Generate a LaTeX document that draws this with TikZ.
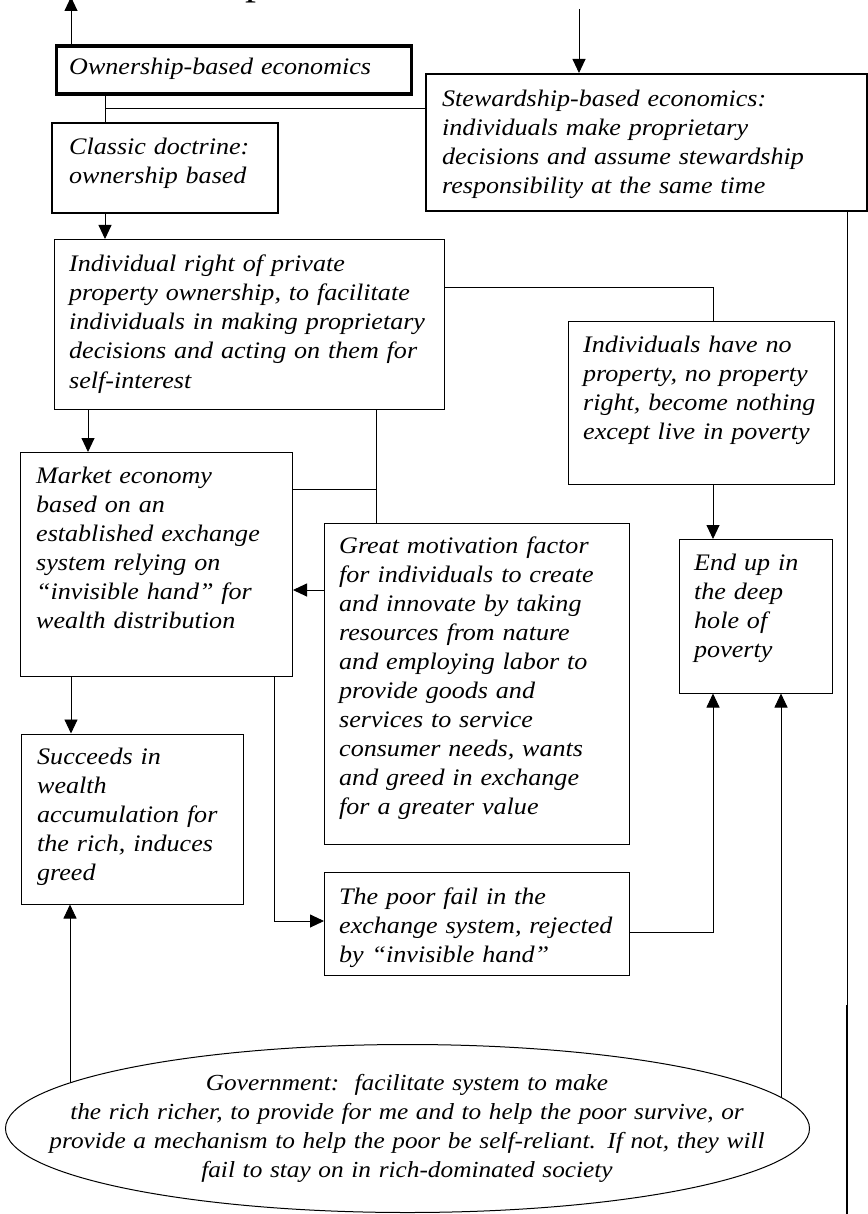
\documentclass[tikz,border=0pt]{standalone}
\usepackage{fontspec}
\setmainfont{Liberation Serif}[FakeStretch=1.1]
\usetikzlibrary{arrows.meta,shapes.geometric,calc}
\begin{document}
\begin{tikzpicture}[x=1pt,y=-1pt,
  box/.style={draw, line width=1pt, inner sep=0pt, anchor=north west},
  txt/.style={anchor=base west, inner sep=0pt, align=left, text width=440pt,
              font=\fontsize{23.7}{29}\selectfont\itshape},
  conn/.style={line width=0.9pt},
  arr/.style={conn, -{Triangle[length=14pt,width=13pt]}}]
\useasboundingbox (0,0) rectangle (867,1214);

% boxes
\node[box, line width=3.3pt, minimum width=355pt, minimum height=48pt] (own) at (54.5,44.5) {};
\node[box, line width=2pt, minimum width=440.5pt, minimum height=137pt] (stew) at (425,73) {};
\node[box, line width=2pt, minimum width=226pt, minimum height=90.2pt] (classic) at (51,122.3) {};
\node[box, minimum width=390pt, minimum height=170pt] (indiv) at (53.5,239) {};
\node[box, minimum width=266pt, minimum height=163pt] (none) at (568,321) {};
\node[box, minimum width=272pt, minimum height=224pt] (market) at (20,452) {};
\node[box, minimum width=305pt, minimum height=321pt] (great) at (324,523) {};
\node[box, minimum width=153pt, minimum height=153.5pt] (hole) at (679,539) {};
\node[box, minimum width=222pt, minimum height=170pt] (rich) at (21,733.5) {};
\node[box, minimum width=305pt, minimum height=102.5pt] (poor) at (324,872) {};
\node[draw, line width=1pt, ellipse, inner sep=0pt, minimum width=804pt, minimum height=168pt] (gov) at (407.5,1128.5) {};

% texts
\node[font=\fontsize{40}{40}\selectfont, anchor=base, inner sep=0pt] (title) at (256,-5.7) {p};
\node[txt] (ownT) at (69,75) {Ownership-based economics};
\node[txt] (stewT) at (442,107) {Stewardship-based economics:\\individuals make proprietary\\decisions and assume stewardship\\responsibility at the same time};
\node[txt] (classicT) at (69,154.5) {Classic doctrine:\\ownership based};
\node[txt] (indivT) at (69,272) {Individual right of private\\property ownership, to facilitate\\individuals in making proprietary\\decisions and acting on them for\\self-interest};
\node[txt] (noneT) at (583,352) {Individuals have no\\property, no property\\right, become nothing\\except live in poverty};
\node[txt] (marketT) at (36,483) {Market economy\\based on an\\established exchange\\system relying on\\“invisible hand” for\\wealth distribution};
\node[txt] (greatT) at (339,553) {Great motivation factor\\for individuals to create\\and innovate by taking\\resources from nature\\and employing labor to\\provide goods and\\services to service\\consumer needs, wants\\and greed in exchange\\for a greater value};
\node[txt] (holeT) at (694,570) {End up in\\the deep\\hole of\\poverty};
\node[txt] (richT) at (37,764) {Succeeds in\\wealth\\accumulation for\\the rich, induces\\greed};
\node[txt] (poorT) at (339,904) {The poor fail in the\\exchange system, rejected\\by “invisible hand”};
\node[txt, anchor=base, align=center, text width=800pt, font=\fontsize{23}{29}\selectfont\itshape] (govT) at (407,1090) {Government:\ \ facilitate system to make\\the rich richer, to provide for me and to help the poor survive, or\\provide a mechanism to help the poor be self-reliant. If not, they will\\fail to stay on in rich-dominated society};

% connectors
\coordinate (topout) at (71,-3);
\draw[arr] (own.north -| topout) -- (topout);
\coordinate (c105) at (105,108);
\draw[conn] (own.south -| c105) -- (classic.north -| c105);
\draw[conn] (c105) -- (c105 -| stew.west);
\coordinate (stewin) at (579,9);
\draw[arr] (stewin) -- (stewin |- stew.north);
\draw[arr] (classic.south -| c105) -- (indiv.north -| c105);
\coordinate (c713) at (713,287);
\draw[conn] (c713 -| indiv.east) -- (c713) -- (c713 |- none.north);
\coordinate (c88) at (88,0);
\draw[arr] (indiv.south -| c88) -- (market.north -| c88);
\coordinate (c376) at (376,489);
\draw[conn] (indiv.south -| c376) -- (great.north -| c376);
\draw[conn] (c376) -- (c376 -| market.east);
\coordinate (c590) at (0,590);
\draw[arr] (great.west |- c590) -- (market.east |- c590);
\draw[arr] (none.south -| c713) -- (hole.north -| c713);
\coordinate (c71) at (71,0);
\draw[arr] (market.south -| c71) -- (rich.north -| c71);
\coordinate (c274) at (274,921);
\draw[arr] (market.south -| c274) -- (c274) -- (c274 -| poor.west);
\coordinate (c932) at (713,932);
\draw[arr] (poor.east |- c932) -- (c932) -- (c932 |- hole.south);
\coordinate (govR) at ($(gov.center)+(373.5,-31.1)$);
\coordinate (govL) at ($(gov.center)+(-337.5,-45.5)$);
\draw[arr] (govR) -- (govR |- hole.south);
\draw[arr] (govL) -- (govL |- rich.south);
\coordinate (rmid) at (847,1005);
\coordinate (rbot) at (847,1214);
\draw[conn] (stew.south -| rmid) -- (rmid);
\draw[line width=2pt] (rmid) -- (rbot);
\end{tikzpicture}
\end{document}
